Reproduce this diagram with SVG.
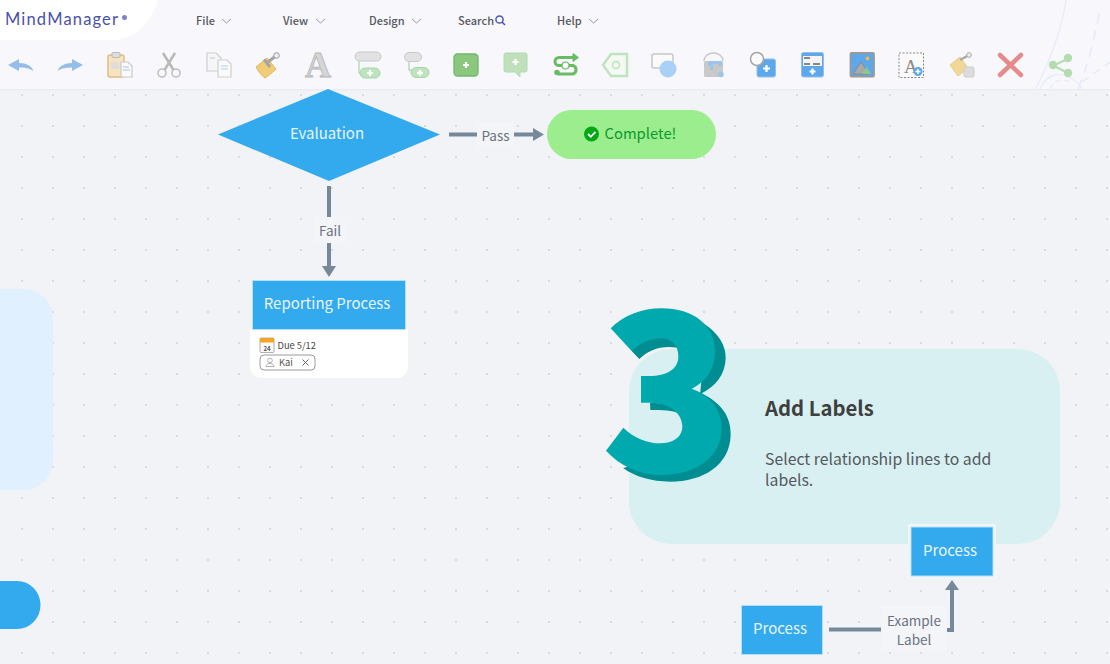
<svg xmlns="http://www.w3.org/2000/svg" width="1110" height="664" viewBox="0 0 1110 664">
<style>
text{font-family:"Noto Sans CJK SC","Noto Sans",sans-serif}
.menu{font-size:11px;fill:#55585f;font-weight:500}
.chev{fill:none;stroke:#8d919a;stroke-width:.9}
.node{font-size:15px;fill:#e8f6ff}
.proc{fill:#33a9ee;stroke:#b5e0fa;stroke-width:1}
.lbl{font-size:13.500px;fill:#6b7280;text-anchor:middle}
.wire{fill:none;stroke:#76899b;stroke-width:4}
.head{fill:#76899b}
.lblbg{fill:#f3f5f9}
.gh{fill:none;stroke:#c0c0c0;stroke-width:1.600}
.gn{fill:#bfe3bf;stroke:#a6d8a6;stroke-width:1}
.plus{stroke:#fff;stroke-width:2.200;fill:none}
</style>
<defs>
<pattern id="dots" patternUnits="userSpaceOnUse" x="20" y="93" width="31" height="31">
<circle cx="2" cy="2" r="1.100" fill="#d2d4d9"/>
</pattern>
</defs>
<rect width="1110" height="664" fill="#f2f3f6"/>
<rect y="90" width="1110" height="574" fill="url(#dots)"/>

<g id="side-panels">
<path d="M0 289H23a30 30 0 0 1 30 30V460a30 30 0 0 1-30 30H0Z" fill="#e0f0fe"/>
<path d="M0 581H17a23.500 24 0 0 1 0 48H0Z" fill="#33a9ee"/>
</g>

<g id="header">
<rect width="1110" height="89" fill="#f7f7fc"/>
<rect y="89" width="1110" height="1.500" fill="#e9edf2"/>
<path d="M0 0H158C150 24 136 40 112 40H0Z" fill="#fff"/>
<g fill="none" stroke="#e6ebf8" stroke-width="1.200">
<path d="M1036 89C1050 60 1062 30 1066 0"/>
<path d="M1040 89C1046 76 1056 72 1066 76C1076 80 1080 84 1082 89"/>
<path d="M1050 89C1054 80 1062 78 1070 82" stroke-dasharray="5 4"/>
<path d="M1078 89C1090 60 1096 30 1100 10" stroke-dasharray="10 7" stroke-width="1.500"/>
<path d="M1082 82L1110 62" stroke-dasharray="8 6" stroke-width="1.500"/>
</g>
<text x="5" y="25" font-size="16.500" style="font-family:Lato,'Open Sans',sans-serif" fill="#4a50ad" textLength="113" lengthAdjust="spacing">MindManager</text>
<circle cx="124.500" cy="17.500" r="2.500" fill="#7d82c4"/>
<text class="menu" x="196" y="24.500">File</text><path class="chev" d="M222 19l4.500 4 4.500-4"/>
<text class="menu" x="283" y="24.500">View</text><path class="chev" d="M316 19l4.500 4 4.500-4"/>
<text class="menu" x="369" y="24.500">Design</text><path class="chev" d="M412 19l4.500 4 4.500-4"/>
<text class="menu" x="458" y="24.500">Search</text>
<circle cx="499.500" cy="19.500" r="3.600" fill="none" stroke="#4a55b8" stroke-width="1.500"/><path d="M502 22l3 3" stroke="#4a55b8" stroke-width="1.600"/>
<text class="menu" x="557" y="24.500">Help</text><path class="chev" d="M589 19l4.500 4 4.500-4"/>
</g>

<g id="toolbar">
<path d="M8 65L19 59V63C26 63 32 66 33.500 71C29 68 25 67.500 19 67.500V71Z" fill="#94bde8"/>
<path d="M83 65L72 59V63C65 63 59 66 57.500 71C62 68 66 67.500 72 67.500V71Z" fill="#94bde8"/>
<g>
<rect x="108" y="55" width="16" height="22" rx="2" fill="#f6e3c0" stroke="#e3bc82" stroke-width="1.500"/>
<rect x="112" y="52.500" width="8" height="5" rx="1" fill="#ddd" stroke="#bbb"/>
<rect x="111" y="62" width="8" height="7" fill="#ddd"/>
<path d="M121 62h7l4 4v11h-11Z" fill="#fafafa" stroke="#c9c9c9" stroke-width="1.200"/>
<path d="M123 67h6M123 70h7" stroke="#a9c4e5"/>
</g>
<g>
<circle cx="162" cy="73" r="4" class="gh"/><circle cx="176" cy="73" r="4" class="gh"/>
<path d="M164.500 70L175 53M173.500 70L163 53" fill="none" stroke="#b8b8b8" stroke-width="2.500"/>
</g>
<g>
<path d="M207 53h9l5 5v13h-14Z" fill="#f6f6f6" stroke="#cfcfcf" stroke-width="1.200"/>
<path d="M218 60h9l4 4v13h-13Z" fill="#fafafa" stroke="#cfcfcf" stroke-width="1.200"/>
<path d="M210 58h5M221 66h7M221 69h7" stroke="#b6cbe6"/>
</g>
<g>
<path d="M256 67L267 58L276 69C272 73 268 76 265 78C262 76 258 71 256 67Z" fill="#f1cc76" stroke="#e5b95c"/>
<path d="M264 59.500L270 67" stroke="#a5a5a5" stroke-width="3"/>
<path d="M268 62L277 55" stroke="#a5a5a5" stroke-width="3"/><circle cx="276.500" cy="55.500" r="2.800" fill="#eee" stroke="#999"/>
</g>
<text x="305" y="77" font-size="36" font-weight="700" fill="#d6d6d6" stroke="#b5b5b5" stroke-width=".8" style="font-family:'Liberation Serif',serif">A</text>
<g>
<rect x="355" y="52" width="26" height="9" rx="4.500" fill="#e2e2e2" stroke="#c9c9c9"/>
<path d="M359 61V73H362" fill="none" stroke="#b8dcb8" stroke-width="1.500"/>
<rect x="360" y="68" width="20" height="10" rx="5" class="gn"/><path class="plus" d="M370 70v6M367 73h6"/>
</g>
<g>
<rect x="404.500" y="52.500" width="17" height="9" rx="4.500" fill="#e2e2e2" stroke="#c9c9c9"/>
<path d="M409 62V70H412" fill="none" stroke="#b8dcb8" stroke-width="1.500"/>
<rect x="411" y="67.500" width="18" height="10" rx="5" class="gn"/><path class="plus" d="M420 70v5.500M417 72.800h6"/>
</g>
<g>
<rect x="454" y="54" width="24" height="22" rx="3.500" fill="#8bc77f" stroke="#6dbb68" stroke-width="1.300"/><path class="plus" d="M466 62v6M463 65h6"/>
</g>
<g>
<path d="M506 53h19a2 2 0 0 1 2 2v15a2 2 0 0 1-2 2h-5v5l-5-5h-9a2 2 0 0 1-2-2V55a2 2 0 0 1 2-2Z" fill="#bfe0ba" stroke="#b2dab0"/><path class="plus" d="M515.500 59v6M512.500 62h6"/>
</g>
<g fill="none" stroke="#68bd64" stroke-width="3">
<path d="M574 57.500H559a4 4 0 0 0 0 8H573a4.500 4.500 0 0 1 0 8.500H558"/>
<path d="M573 53.500L578.500 57.500L573 61.500Z" fill="#68bd64" stroke-width="1"/>
<circle cx="557" cy="72.500" r="2.800" fill="#68bd64" stroke="none"/>
<rect x="562" y="62" width="7" height="7" rx="3.500" fill="#fff" stroke-width="1.200"/>
</g>
<g>
<path d="M603 65L611 54H627V76H611Z" fill="#f4faf3" stroke="#bfe3bf" stroke-width="2.400"/><circle cx="616" cy="65" r="3.500" fill="none" stroke="#c2e5c2" stroke-width="1.800"/>
</g>
<g>
<rect x="652" y="54" width="21" height="14" rx="2" fill="#fafafa" stroke="#c7c7c7" stroke-width="1.500"/><circle cx="668" cy="69" r="8.500" fill="#a9d0f6"/>
</g>
<g>
<path d="M704 61a9.500 8 0 0 1 19 0" fill="none" stroke="#c7c7c7" stroke-width="1.300"/>
<rect x="704" y="61" width="19" height="16" rx="1.500" fill="#c9c9c9"/>
<path d="M708 61h14v5h-4v-2h-5v6h-3v-4h-2Z" fill="#9cc4ec"/>
<circle cx="721" cy="74.500" r="2.800" fill="#9cc4ec"/>
</g>
<g>
<rect x="757" y="59" width="18.500" height="18" rx="2" fill="#5ea7ea" stroke="#8fc0ef"/>
<circle cx="757" cy="59" r="6.500" fill="#fafafa" stroke="#a5a5a5" stroke-width="1.500"/><path class="plus" d="M766.500 65v7M763 68.500h7"/>
</g>
<g>
<rect x="801.500" y="52.500" width="22" height="24.500" rx="2" fill="#5ea7ea" stroke="#8fc0ef"/>
<rect x="803" y="56" width="19" height="10" fill="#f4f4f6"/>
<path d="M804 58h6M804 64h6M813 64h7" stroke="#888" stroke-width="2"/>
<path class="plus" d="M812.500 68.500v6M809.500 71.500h6"/>
</g>
<g>
<rect x="850.500" y="53" width="23.500" height="23.500" rx="1" fill="#5da8ea" stroke="#9a9a9a" stroke-width="1.800"/>
<path d="M853 74L861 62L869 74Z" fill="#a9a9a9" stroke="#888"/><path d="M862 74L866.500 67L871 74Z" fill="#8fc78a"/><circle cx="867.500" cy="58.500" r="2" fill="#f5b54b"/>
</g>
<g>
<rect x="899" y="53" width="24.500" height="24.500" fill="#fafafa" stroke="#888" stroke-width="1" stroke-dasharray="2 1.500"/>
<text x="904" y="73" font-size="19" fill="#8a8a8a" style="font-family:'Liberation Serif',serif">A</text>
<circle cx="918" cy="71.500" r="4.500" fill="#5ea7ea"/><path d="M918 69v5M915.500 71.500h5" stroke="#fff" stroke-width="1.500"/>
</g>
<g>
<path d="M950 65L960 57L968 68L958 76Z" fill="#f1d898" stroke="#e9cd85"/>
<path d="M960 60L969 55" stroke="#aaa" stroke-width="2.500"/><circle cx="969" cy="55" r="2.300" fill="#eee" stroke="#aaa"/>
<rect x="964" y="67" width="10" height="10" rx="1.500" fill="#dcdcdc" stroke="#ccc"/>
</g>
<path d="M1000 55L1021 75M1021 55L1000 75" stroke="#e58b8b" stroke-width="4.500" stroke-linecap="round"/>
<g>
<path d="M1068 59L1053 65.500L1068 73" fill="none" stroke="#b4dcb0" stroke-width="2"/>
<circle cx="1068" cy="58" r="4.200" fill="#b4dcb0"/><circle cx="1053" cy="65" r="4.200" fill="#b4dcb0"/><circle cx="1068" cy="73" r="4.200" fill="#b4dcb0"/>
</g>
</g>

<g id="connectors">
<path class="wire" d="M449 134.500H477"/>
<path class="wire" d="M514 134.500H535"/><path class="head" d="M533 128L544 134.500L533 141Z"/>
<path class="wire" d="M329 186V217"/>
<path class="wire" d="M329 243V267"/><path class="head" d="M322 266H336L329 277Z"/>
<path class="wire" d="M829 629.500H882"/>
<path class="wire" d="M946 630H952V590"/><path class="head" d="M945 590H959L952 580Z"/>
</g>

<g id="label-pass"><rect class="lblbg" x="477" y="122" width="37" height="25"/><text class="lbl" x="495.500" y="140.500">Pass</text></g>
<g id="label-fail"><rect class="lblbg" x="314" y="217" width="31" height="26"/><text class="lbl" x="330" y="236">Fail</text></g>
<g id="label-example"><rect class="lblbg" x="881" y="606" width="66" height="45"/><text class="lbl" x="914" y="626">Example</text><text class="lbl" x="914" y="645">Label</text></g>

<g id="evaluation"><path d="M218 134.500L328 89L440 134.500L329 181Z" fill="#33a9ee"/><text class="node" x="327" y="138.500" text-anchor="middle">Evaluation</text></g>

<g id="complete">
<rect x="547" y="110" width="169" height="49" rx="24.500" fill="#9ced8d"/>
<circle cx="591.500" cy="134" r="7.500" fill="#00a914"/><path d="M588 134l2.800 2.800 4.700-5" fill="none" stroke="#fff" stroke-width="1.800"/>
<text x="604.500" y="138.500" font-size="14.800" fill="#0a9a2d">Complete!</text>
</g>

<g id="reporting-process">
<path d="M250 329H408V366a12 12 0 0 1-12 12H262a12 12 0 0 1-12-12Z" fill="#fff"/>
<rect class="proc" x="252.500" y="280.500" width="153" height="49"/>
<text class="node" x="327" y="309" text-anchor="middle">Reporting Process</text>
<rect x="260" y="338" width="14" height="14.500" rx="1" fill="#fafafa" stroke="#9a9a9a" stroke-width=".8"/><rect x="260" y="338" width="14" height="4.500" fill="#f5a623"/>
<text x="267" y="351" font-size="6" font-weight="700" fill="#555" text-anchor="middle">24</text>
<text x="277.500" y="349" font-size="9.300" fill="#444">Due 5/12</text>
<rect x="260" y="355" width="55" height="15" rx="4" fill="#fff" stroke="#9a9a9a" stroke-width="1"/>
<circle cx="270" cy="360.500" r="2.300" fill="none" stroke="#999" stroke-width=".8"/><path d="M266 366.500c0-4 8-4 8 0Z" fill="none" stroke="#999" stroke-width=".8"/>
<text x="279" y="366" font-size="9.300" fill="#555">Kai</text>
<path d="M302.500 359.500l6 6M308.500 359.500l-6 6" stroke="#666" stroke-width="1"/>
</g>

<g id="step-3">
<rect x="629" y="349" width="431" height="195" rx="42" fill="#d8f0f2"/>
<g transform="translate(590 295) scale(.33333)">
<path fill="#008d92" d="M340 85C385 115 408 150 407 190C406 240 375 275 335 295C395 325 423 365 422 420C420 510 340 560 240 560C185 560 135 545 100 520L150 500L300 480L350 400L330 300L340 200Z"/>
<path fill="#008d92" d="M125 168L148 192C175 165 215 150 262 158L262 120L150 125Z"/>
<path fill="#008d92" d="M180 323L181 345C215 345 250 345 271 357C265 335 225 323 180 323Z"/>
<path fill="#00a9ae" d="M62 100C100 62 155 40 215 40C310 40 375 90 375 170C375 225 345 262 305 281C355 298 395 340 395 400C395 485 320 540 215 540C145 540 90 512 48 467L100 398C130 428 170 445 210 445C250 445 277 425 277 395C277 355 240 324 180 323H153V243H178C230 243 265 222 265 185C265 150 245 130 212 130C180 130 150 145 125 168Z"/>
</g>
<text x="765" y="416" font-size="20.300" font-weight="700" fill="#3f3f3f">Add Labels</text>
<text x="765" y="465" font-size="15.800" fill="#55585c">Select relationship lines to add</text>
<text x="765" y="486" font-size="15.800" fill="#55585c">labels.</text>
</g>

<g id="process-top"><rect x="908" y="524" width="88" height="55" fill="#f2f6f9"/><rect class="proc" x="911" y="527" width="82" height="49"/><text class="node" x="950" y="556" text-anchor="middle">Process</text></g>
<g id="process-bottom"><rect class="proc" x="741.500" y="605.500" width="81" height="49"/><text class="node" x="780" y="634" text-anchor="middle">Process</text></g>
</svg>
